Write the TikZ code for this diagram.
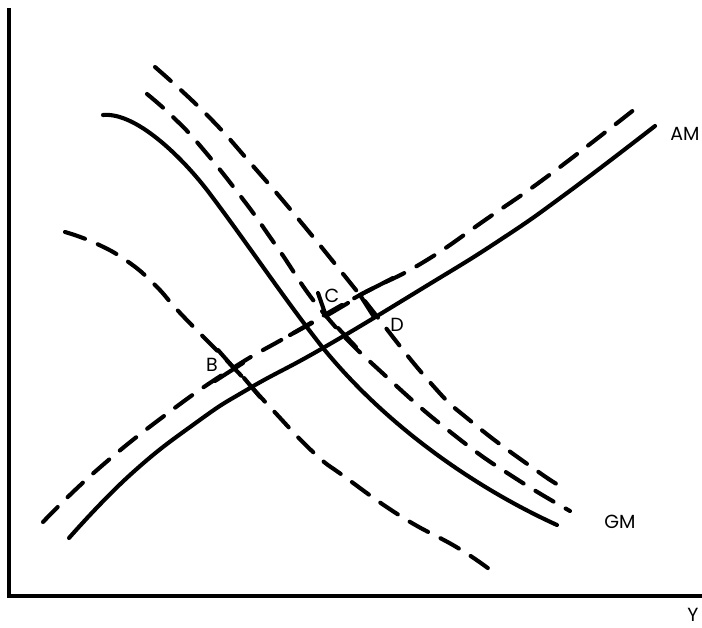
\documentclass[tikz,border=0pt]{standalone}
\usepackage{fontspec}
\setmainfont{Poppins}
\begin{document}
\begin{tikzpicture}[x=1pt,y=-1pt,
  curve/.style={line width=4.1pt,line cap=round,line join=round},
  dashcurve/.style={curve,dash pattern=on 21pt off 14pt},
  lbl/.style={font=\fontsize{19}{20}\selectfont,inner sep=0pt}]
\useasboundingbox (0,0) rectangle (702,627);
% axes
\draw[line width=3.2pt] (9,8) -- (9,596) -- (702,596);
% AM (solid)
\draw[curve] plot[smooth,tension=0.8] coordinates {(69,538) (130,475) (197,422) (250,388) (323,348) (423,288) (500,240) (567,193) (655,126)};
% AM (dashed)
\draw[dashcurve] plot[smooth,tension=0.8] coordinates {(43,522) (97,470) (168,413) (233,368) (290,335) (360,295) (422,263) (488,218) (552,173) (640,105)};
% GM (solid)
\draw[curve] (103,115) .. controls (135,112) and (180,155) .. (207,190)
  .. controls (245,240) and (285,300) .. (323,348)
  .. controls (390,430) and (480,490) .. (557,525);
% GM dashed 1
\draw[dashcurve] plot[smooth,tension=0.8] coordinates {(147,94) (173,117) (202,148) (245,202) (277,247) (326,316) (390,380) (458,438) (515,478) (570,511)};
% GM dashed 2
\draw[dashcurve] plot[smooth,tension=0.8] coordinates {(155,67) (207,115) (253,166) (300,221) (360,295) (428,380) (473,423) (540,473) (563,487)};
% left dashed
\draw[dashcurve] plot[smooth,tension=0.8] coordinates {(65,232) (95,243) (127,261) (155,285) (182,315) (233,367) (269,406) (313,452) (345,477) (402,517) (458,548) (493,572)};
% marks at intersections
\draw[curve] (218,350) -- (233,367);
\draw[curve] (215,381) -- (243,363);
\draw[curve] (318,293) -- (326,316);
\draw[curve] (326,316) -- (348,303);
\draw[curve] (360,295) -- (374,317);
\draw[curve] (360,295) -- (393,278);
\draw[curve] (290,335) -- (312,323);
\draw[curve] (338,328) -- (356,347);
\draw[curve] (244,378) -- (260,397);
% labels
\node[lbl] (am) at (685,134) {AM};
\node[lbl] (gm) at (620,522) {GM};
\node[lbl] (ylab) at (693,615) {Y};
\node[lbl] (b) at (212,365) {B};
\node[lbl] (c) at (332,296) {C};
\node[lbl] (d) at (397,325) {D};
\end{tikzpicture}
\end{document}
